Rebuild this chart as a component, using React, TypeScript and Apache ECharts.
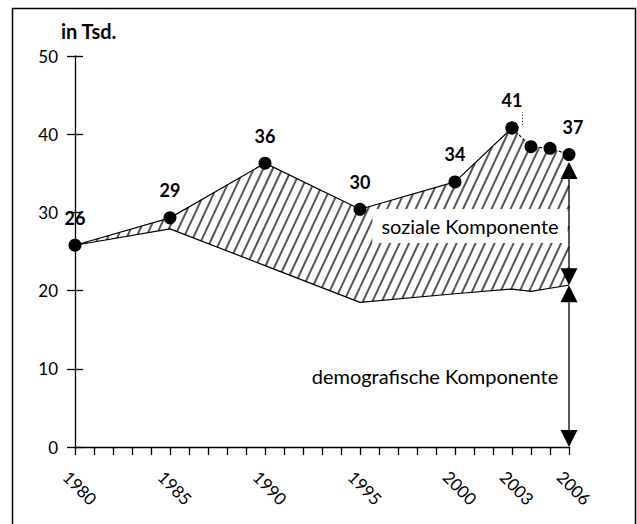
import React, { useEffect, useRef } from "react";
import * as echarts from "echarts";

const years = [1980, 1985, 1990, 1995, 2000, 2003, 2004, 2005, 2006];
const totalValues = [25.8, 29.3, 36.3, 30.4, 33.9, 40.8, 38.4, 38.2, 37.4];
const demographicValues = [25.8, 27.9, 23.2, 18.5, 19.6, 20.2, 19.9, 20.3, 20.7];
const labeledYears = [1980, 1985, 1990, 1995, 2000, 2003, 2006];
const xTickLabels = ["1980", "1985", "1990", "1995", "2000", "2003", "2006"];
const arrowSegments = [
  [2006, 36.45, 20.7],
  [2006, 20.7, 0],
];
const leaderLine = [2003.53, 41.2, 42.8];
const yAxisName = "in Tsd.";
const socialLabel = "soziale Komponente";
const demographicLabel = "demografische Komponente";

const FONT = "Lato, 'Open Sans', sans-serif";

function clipLine(c: number, t: number, poly: number[][]): [number, number] | null {
  // line: points (c - t*s, s), s is the screen y
  const n = poly.length;
  let cx = 0, cy = 0;
  poly.forEach((p) => { cx += p[0] / n; cy += p[1] / n; });
  let smin = -1e9, smax = 1e9;
  const p0 = [c, 0];
  const d = [-t, 1];
  for (let i = 0; i < n; i++) {
    const a = poly[i];
    const b = poly[(i + 1) % n];
    const ex = b[0] - a[0], ey = b[1] - a[1];
    if (Math.abs(ex) + Math.abs(ey) < 1e-9) continue;
    let nx = -ey, ny = ex;
    if (nx * (cx - a[0]) + ny * (cy - a[1]) < 0) { nx = -nx; ny = -ny; }
    const num = nx * (p0[0] - a[0]) + ny * (p0[1] - a[1]);
    const den = nx * d[0] + ny * d[1];
    if (Math.abs(den) < 1e-12) {
      if (num < 0) return null;
      continue;
    }
    const s = -num / den;
    if (den > 0) smin = Math.max(smin, s);
    else smax = Math.min(smax, s);
  }
  if (smax - smin < 0.5) return null;
  return [smin, smax];
}

export default function App() {
  const ref = useRef<HTMLDivElement>(null);
  useEffect(() => {
    if (!ref.current) return;
    const chart = echarts.init(ref.current, null, { renderer: "svg" });
    const pairs = (vals: number[]) => years.map((y, i) => [y, vals[i]]);
    const idx2003 = years.indexOf(2003);
    const hatchSegments = years.slice(0, -1).map((y, i) => [
      y, years[i + 1], totalValues[i], totalValues[i + 1], demographicValues[i], demographicValues[i + 1],
    ]);
    const labelFmt = (p: any) =>
      labeledYears.includes(p.value[0]) ? String(Math.round(p.value[1])) : "";
    const pointLabel = {
      show: true,
      position: "top" as const,
      distance: 12,
      fontFamily: FONT,
      fontWeight: "bold" as const,
      fontSize: 18,
      color: "#000",
      formatter: labelFmt,
    };
    const spacing = 9.5;
    const slopeT = 1 / Math.tan((65 * Math.PI) / 180);
    chart.setOption({
      animation: false,
      grid: { left: 75, right: 68, top: 56, bottom: 77 },
      xAxis: {
        type: "value",
        min: 1980,
        max: 2006,
        interval: 1,
        splitLine: { show: false },
        axisLine: { show: true, lineStyle: { color: "#000", width: 1.3 } },
        axisTick: { show: true, length: 8, lineStyle: { color: "#000", width: 1.3 } },
        axisLabel: {
          rotate: -45,
          align: "center",
          margin: 36,
          padding: [0, 0, 0, 14],
          fontFamily: FONT,
          fontSize: 17,
          color: "#000",
          formatter: (v: number) => (xTickLabels.includes(String(v)) ? String(v) : ""),
        },
      },
      yAxis: [
        {
          type: "value",
          min: 0,
          max: 50,
          interval: 10,
          splitLine: { show: false },
          axisLine: { show: true, lineStyle: { color: "#000", width: 1.3 } },
          axisTick: { show: true, length: 8, lineStyle: { color: "#000", width: 1.3 } },
          axisLabel: { margin: 17, fontFamily: FONT, fontSize: 17, color: "#000" },
        },
        {
          type: "value",
          min: 0,
          max: 50,
          interval: 10,
          position: "left",
          splitLine: { show: false },
          axisLine: { show: false },
          axisTick: { show: true, inside: true, length: 8, lineStyle: { color: "#000", width: 1.3 } },
          axisLabel: { show: false },
        },
      ],
      series: [
        {
          type: "custom",
          data: hatchSegments,
          encode: { x: [0, 1], y: [2, 3, 4, 5] },
          silent: true,
          z: 1,
          renderItem: (params: any, api: any) => {
            const xa = api.value(0), xb = api.value(1);
            const poly = [
              api.coord([xa, api.value(2)]),
              api.coord([xb, api.value(3)]),
              api.coord([xb, api.value(5)]),
              api.coord([xa, api.value(4)]),
            ];
            const cs = poly.map((p) => p[0] + slopeT * p[1]);
            const cmin = Math.min(...cs), cmax = Math.max(...cs);
            const children: any[] = [];
            for (let c = Math.ceil(cmin / spacing) * spacing; c <= cmax; c += spacing) {
              const r = clipLine(c, slopeT, poly);
              if (!r) continue;
              children.push({
                type: "line",
                shape: { x1: c - slopeT * r[0], y1: r[0], x2: c - slopeT * r[1], y2: r[1] },
                style: { stroke: "#555555", lineWidth: 2 },
              });
            }
            return { type: "group", children };
          },
        },
        {
          type: "line",
          data: pairs(demographicValues),
          symbol: "none",
          lineStyle: { color: "#000", width: 1.2 },
          z: 3,
        },
        {
          type: "line",
          data: pairs(totalValues).slice(0, idx2003 + 1),
          symbol: "circle",
          symbolSize: 13,
          itemStyle: { color: "#000" },
          lineStyle: { color: "#000", width: 1.2 },
          label: pointLabel,
          z: 4,
        },
        {
          type: "line",
          data: pairs(totalValues)
            .slice(idx2003)
            .map((d) => ({
              value: d,
              label: d[0] === 2003 ? { show: false } : d[0] === 2006 ? { offset: [4, 0] } : undefined,
            })),
          symbol: "circle",
          symbolSize: 13,
          itemStyle: { color: "#000" },
          lineStyle: { color: "#000", width: 1.2, type: [3, 2] },
          label: pointLabel,
          markLine: {
            silent: true,
            symbol: "none",
            label: { show: false },
            lineStyle: { color: "#000", width: 1, type: [1, 2] },
            data: [[{ coord: [leaderLine[0], leaderLine[1]] }, { coord: [leaderLine[0], leaderLine[2]] }]],
          },
          z: 4,
        },
        {
          type: "custom",
          data: arrowSegments,
          encode: { x: 0, y: [1, 2] },
          z: 5,
          renderItem: (params: any, api: any) => {
            const x = api.value(0);
            const p1 = api.coord([x, api.value(1)]);
            const p2 = api.coord([x, api.value(2)]);
            const w = 8.5;
            const h = 17;
            return {
              type: "group",
              children: [
                {
                  type: "line",
                  shape: { x1: p1[0], y1: p1[1] + h, x2: p2[0], y2: p2[1] - h },
                  style: { stroke: "#000", lineWidth: 1.3 },
                },
                {
                  type: "polygon",
                  shape: { points: [[p1[0], p1[1]], [p1[0] - w, p1[1] + h], [p1[0] + w, p1[1] + h]] },
                  style: { fill: "#000" },
                },
                {
                  type: "polygon",
                  shape: { points: [[p2[0], p2[1]], [p2[0] - w, p2[1] - h], [p2[0] + w, p2[1] - h]] },
                  style: { fill: "#000" },
                },
              ],
            };
          },
        },
      ],
      graphic: [
        {
          type: "rect",
          z: 0,
          shape: { x: 12.5, y: 8.5, width: 623, height: 540 },
          style: { fill: "none", stroke: "#000", lineWidth: 1.5 },
        },
        {
          type: "text",
          z: 10,
          left: 61,
          top: 21,
          style: { text: yAxisName, fontFamily: FONT, fontWeight: "bold", fontSize: 20, fill: "#000" },
        },
        {
          type: "text",
          z: 10,
          x: 470,
          y: 226,
          style: {
            text: socialLabel,
            fontFamily: FONT,
            fontSize: 20,
            fill: "#000",
            align: "center",
            verticalAlign: "middle",
            backgroundColor: "#fff",
            padding: [7, 9],
          },
        },
        {
          type: "text",
          z: 10,
          x: 435,
          y: 376,
          style: {
            text: demographicLabel,
            fontFamily: FONT,
            fontSize: 20,
            fill: "#000",
            align: "center",
            verticalAlign: "middle",
          },
        },
      ],
    });
    return () => chart.dispose();
  }, []);
  return (
    <div
      ref={ref}
      style={{ position: "fixed", left: 0, top: 0, width: 637, height: 524, background: "#fff" }}
    />
  );
}
